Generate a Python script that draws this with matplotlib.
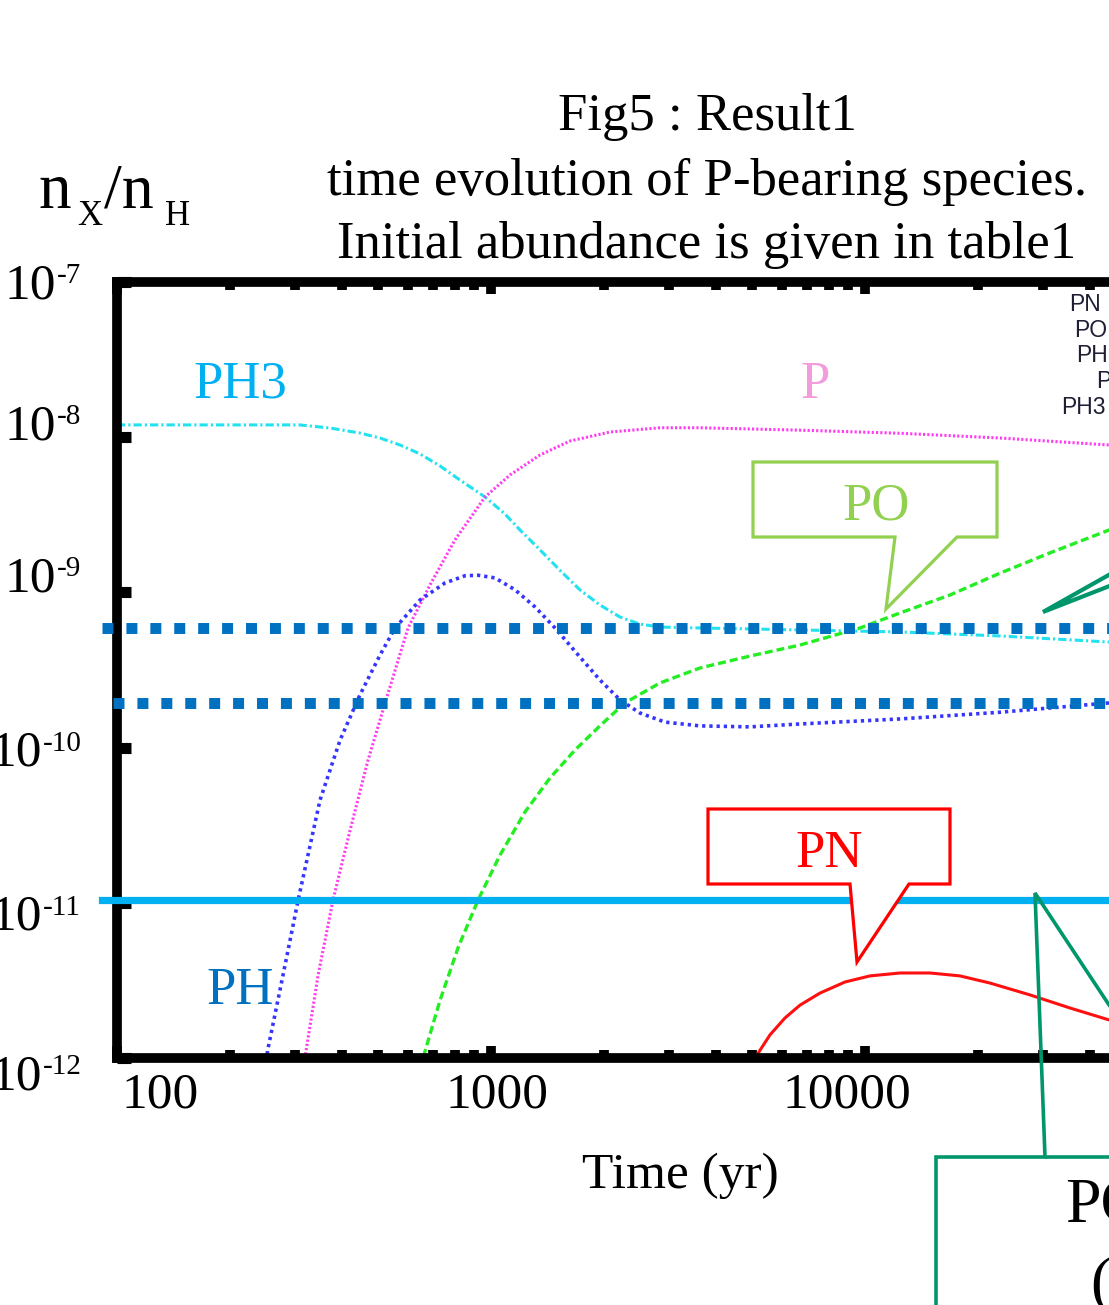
import matplotlib
matplotlib.use("Agg")
import matplotlib.pyplot as plt
from matplotlib.patches import Polygon

W, H, DPI = 1109, 1305, 100

# ---------------- data ----------------
t_ph3 = [100, 167, 308, 371, 446, 505, 571, 646, 731, 826, 964, 1090, 1196, 1352, 1528, 1728, 1955, 2213,
         2502, 2831, 3622, 6700, 12410, 22960, 44900, 57800]
ph3 = [1.2e-8, 1.2e-8, 1.2e-8, 1.146e-8, 1.064e-8, 9.88e-9, 8.91e-9, 7.80e-9, 6.52e-9, 5.30e-9, 4.12e-9,
       3.20e-9, 2.52e-9, 1.88e-9, 1.39e-9, 1.04e-9, 8.30e-10, 6.94e-10, 6.25e-10, 5.98e-10, 5.9e-10,
       5.73e-10, 5.56e-10, 5.24e-10, 4.79e-10, 4.6e-10]

t_p = [300, 318, 345, 378, 420, 469, 521, 600, 687, 801, 964, 1124, 1352, 1626, 2080, 2831, 3622, 6700,
       12410, 22960, 44900, 57800]
p = [5e-13, 1e-12, 3.43e-12, 1.04e-11, 2.94e-11, 8.3e-11, 1.94e-10, 5.9e-10, 1.117e-9, 2.18e-9, 4.12e-9,
     5.71e-9, 7.68e-9, 9.45e-9, 1.08e-8, 1.15e-8, 1.15e-8, 1.11e-8, 1.06e-8, 9.88e-9, 8.91e-9, 8.6e-9]

t_ph = [244, 253, 278, 305, 349, 395, 446, 505, 554, 646, 753, 852, 923, 1025, 1159, 1312, 1483, 1728, 1955,
        2213, 2502, 2918, 3622, 4929, 6700, 12410, 22960, 44900, 57800]
ph = [6.22e-13, 1.13e-12, 3.43e-12, 1.04e-11, 4.59e-11, 1.12e-10, 2.18e-10, 3.95e-10, 5.9e-10, 8.93e-10,
      1.15e-9, 1.28e-9, 1.29e-9, 1.24e-9, 1.04e-9, 8.05e-10, 5.9e-10, 3.84e-10, 2.73e-10, 2.03e-10,
      1.67e-10, 1.46e-10, 1.38e-10, 1.36e-10, 1.42e-10, 1.53e-10, 1.69e-10, 1.94e-10, 2.03e-10]

t_po = [638, 658, 731, 816, 923, 1057, 1233, 1438, 1678, 1955, 2280, 2831, 3622, 4929, 6700, 9700, 12410,
        16870, 22960, 31260, 44900, 57800]
po = [7.2e-13, 1e-12, 2.36e-12, 5.12e-12, 1.04e-11, 2.03e-11, 3.85e-11, 6.37e-11, 9.66e-11, 1.38e-10,
      1.94e-10, 2.61e-10, 3.26e-10, 3.89e-10, 4.58e-10, 5.9e-10, 7.37e-10, 9.62e-10, 1.33e-9, 1.80e-9,
      2.52e-9, 3.15e-9]

t_pn = [4775, 5080, 5572, 6109, 6700, 7580, 8846, 10310, 12410, 14930, 17950, 21590, 27610, 35320, 44900, 57800]
pn = [7.8e-13, 1e-12, 1.41e-12, 1.81e-12, 2.19e-12, 2.62e-12, 3.09e-12, 3.38e-12, 3.53e-12, 3.53e-12,
      3.38e-12, 3.04e-12, 2.55e-12, 2.10e-12, 1.76e-12, 1.47e-12]

ref_dotted = [5.9e-10, 1.94e-10]
ref_dotted_start = [91.2, 97.6]
ref_solid = 1.04e-11
ref_solid_start = 91.2

x_ticks = [100, 1000, 10000]
x_tick_labels = ["100", "1000", "10000"]
y_exponents = ["-7", "-8", "-9", "-10", "-11", "-12"]
legend_names = ["PN", "PO", "PH", "P", "PH3"]

title_lines = ["Fig5 : Result1", "time evolution of P-bearing species.", "Initial abundance is given in table1"]

SERIF = ["Liberation Serif", "DejaVu Serif"]
SANS = ["Liberation Sans", "DejaVu Sans"]

fig = plt.figure(figsize=(W / DPI, H / DPI), dpi=DPI)


def fx(x):
    return x / W


def fy(y):
    return 1 - y / H


def ftext(x, y, s, **kw):
    fig.text(fx(x), fy(y), s, **kw)


# axes: left spine at x=117 px, y from 282 (1e-7) to 1058 (1e-12) px, 374 px per decade in x
decade = 374
ax = fig.add_axes([fx(117), fy(1058), 3 * decade / W, 776 / H])
ax.set_xscale("log")
ax.set_yscale("log")
ax.set_xlim(100, 1e5)
ax.set_ylim(1e-12, 1e-7)

for s in ["left", "top", "bottom", "right"]:
    ax.spines[s].set_linewidth(7)
    ax.spines[s].set_color("black")

ax.tick_params(axis="x", which="major", direction="in", top=True, bottom=True, length=8.5, width=7,
               labelbottom=False, color="black")
ax.tick_params(axis="x", which="minor", direction="in", top=True, bottom=True, length=5.5, width=7)
ax.tick_params(axis="y", which="major", direction="in", left=True, right=False, length=10, width=8,
               labelleft=False)
ax.tick_params(axis="y", which="minor", left=False, right=False)
ax.set_yticks([10.0 ** (-k) for k in range(7, 13)])
ax.set_xticks(x_ticks)

# curves
ax.plot(t_ph3, ph3, color="#22e2f0", lw=2.2, linestyle=(0, (2.7, 1.0, 0.7, 1.0)))
ax.plot(t_p, p, color="#ff3cf0", lw=2.2, linestyle=(0, (0.7, 0.7)))
ax.plot(t_ph, ph, color="#3535ff", lw=2.6, linestyle=(0, (0.9, 1.1)))
ax.plot(t_po, po, color="#22ee22", lw=2.4, linestyle=(0, (2.4, 1.2)))
ax.plot(t_pn, pn, color="#ff1010", lw=2.2)

# reference levels (overlay)
for yv, x0 in zip(ref_dotted, ref_dotted_start):
    ax.plot([x0, 1e5], [yv, yv], color="#0070C0", lw=7.9, linestyle=(0, (1.0, 1.18)),
            dash_capstyle="butt", clip_on=False, zorder=5)
ax.plot([ref_solid_start, 1e5], [ref_solid, ref_solid], color="#00B0F0", lw=5.2, clip_on=False, zorder=5)

# tick labels
for xv, lab in zip([160, 497, 847], x_tick_labels):
    ftext(xv, 1107, lab, fontsize=37, family=SERIF, ha="center", va="baseline")

y_label_base = [298, 439, 591, 766, 930, 1089]
for e, yb in zip(y_exponents, y_label_base):
    xr = 56 if len(e) == 2 else 42
    ftext(xr, yb, "10", fontsize=37, family=SERIF, ha="right", va="baseline")
    ftext(xr + 1, yb - 15, e, fontsize=21, family=SERIF, ha="left", va="baseline")

# axis titles
ftext(680, 1188, "Time (yr)", fontsize=37, family=SERIF, ha="center", va="baseline")
ftext(39, 208, "n", fontsize=47, family=SERIF, ha="left", va="baseline")
ftext(77, 225, "X", fontsize=25, family=SERIF, ha="left", va="baseline")
ftext(104, 208, "/n", fontsize=46, family=SERIF, ha="left", va="baseline")
ftext(165, 225, "H", fontsize=25, family=SERIF, ha="left", va="baseline")

# title
for line, yb in zip(title_lines, [130, 195, 258]):
    ftext(707, yb, line, fontsize=38, family=SERIF, ha="center", va="baseline")

# gnuplot key (cut off at right edge)
for name, xl, yb in zip(legend_names, [1069, 1074, 1076, 1096, 1061], [311, 337, 362, 388, 414]):
    ftext(xl, yb, name, fontsize=16.5, family=SANS, ha="left", va="baseline", color="#1e1e34")

# species labels
ftext(240, 398, "PH3", fontsize=38, family=SERIF, ha="center", va="baseline", color="#00B0F0")
ftext(815, 398, "P", fontsize=38, family=SERIF, ha="center", va="baseline", color="#F29CDC")
ftext(240, 1004, "PH", fontsize=38, family=SERIF, ha="center", va="baseline", color="#0070C0")


def poly(pts, color, lw, closed=True):
    pp = [(fx(a), fy(b)) for a, b in pts]
    patch = Polygon(pp, closed=closed, fill=closed, facecolor="white" if closed else "none",
                    edgecolor=color, lw=lw, transform=fig.transFigure, joinstyle="miter", zorder=10)
    fig.add_artist(patch)


# PO callout
poly([(753, 462), (997, 462), (997, 537), (957, 537), (886, 609), (895, 537), (753, 537)], "#92D050", 2.3)
ftext(876, 520, "PO", fontsize=38, family=SERIF, ha="center", va="baseline", color="#92D050", zorder=11)

# PN callout
poly([(708, 809), (950, 809), (950, 884), (909, 884), (857, 962), (850, 884), (708, 884)], "#FF0000", 2.3)
ftext(829, 867, "PN", fontsize=38, family=SERIF, ha="center", va="baseline", color="#FF0000", zorder=11)

# large teal callout (mostly out of frame)
teal = "#00966c"
poly([(936, 1330), (936, 1157), (1045, 1157), (1035, 893), (1160, 1082)], teal, 2.6, closed=False)
poly([(1045, 1157), (1150, 1157)], teal, 2.6, closed=False)
ftext(1065, 1222, "PO", fontsize=46, family=SERIF, ha="left", va="baseline", color="black", zorder=11)
ftext(1090, 1300, "(", fontsize=46, family=SERIF, ha="left", va="baseline", color="black", zorder=11)

# teal pointer coming from out of frame (top right)
poly([(1130, 563), (1043, 612), (1130, 578)], teal, 3.0, closed=False)

fig.savefig("out.png", dpi=DPI)
